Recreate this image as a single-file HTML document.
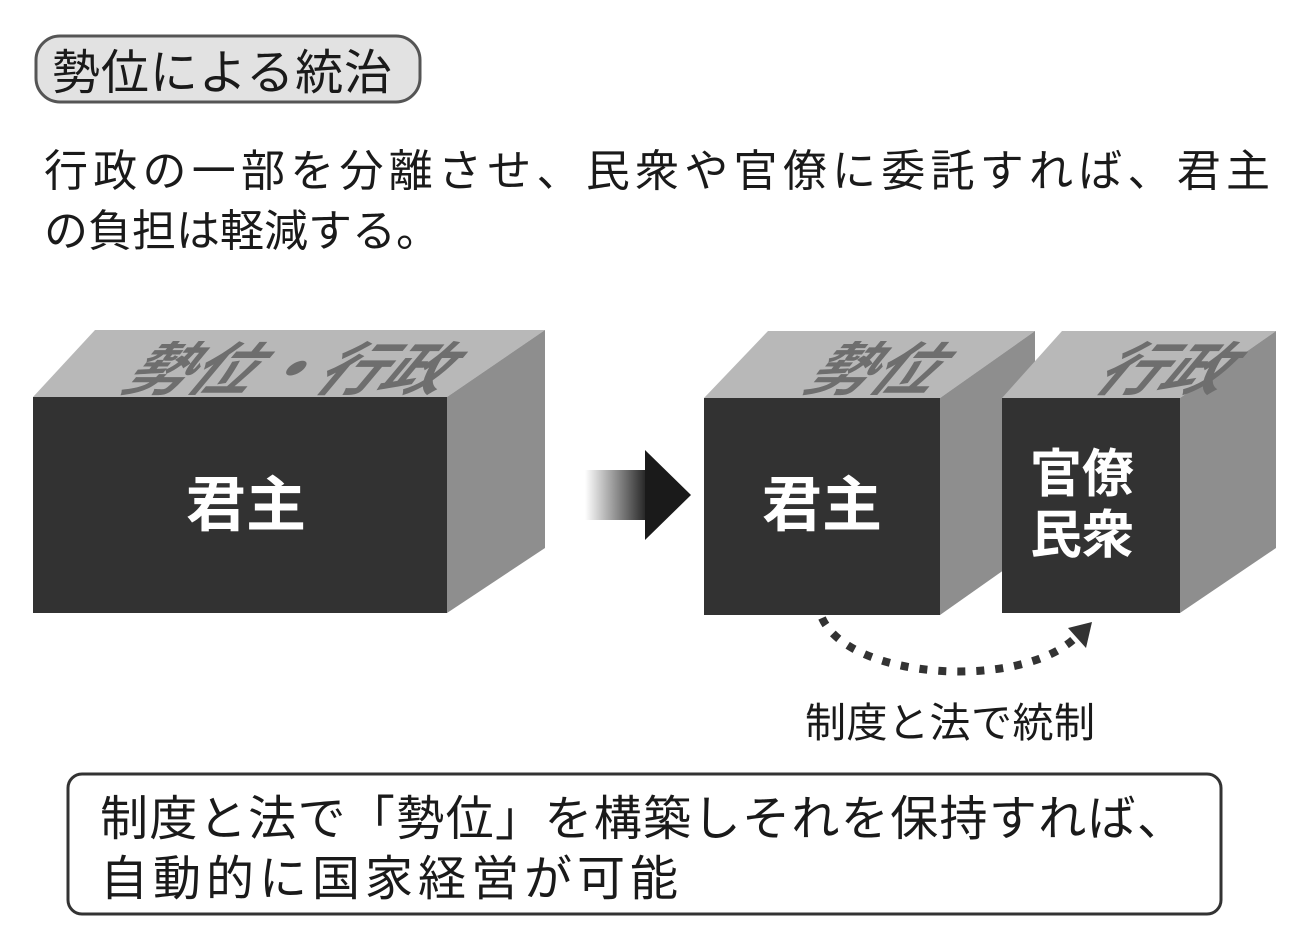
<!DOCTYPE html>
<html><head><meta charset="utf-8"><style>
html,body{margin:0;padding:0;background:#fff;}
svg{display:block;}
text{font-family:"Liberation Sans","Noto Sans CJK JP",sans-serif;}
</style></head><body>
<svg width="1300" height="951" viewBox="0 0 1300 951" xmlns="http://www.w3.org/2000/svg">
<defs>
<linearGradient id="ag" x1="0" x2="1" y1="0" y2="0">
<stop offset="0" stop-color="#fff"/><stop offset="1" stop-color="#222"/>
</linearGradient>
</defs>
<rect width="1300" height="951" fill="#fff"/>
<rect x="36" y="36" width="384" height="66" rx="24" fill="#e2e2e2" stroke="#555" stroke-width="3"/>
<text x="52" y="89" font-size="48" fill="#1a1a1a" textLength="340">勢位による統治</text>
<text x="44" y="186" font-size="44" fill="#1a1a1a" textLength="1226">行政の一部を分離させ、民衆や官僚に委託すれば、君主</text>
<text x="44" y="246" font-size="44" fill="#1a1a1a">の負担は軽減する。</text>

<polygon points="33,397 95,330 545,330 447,397" fill="#b8b8b8"/>
<polygon points="447,397 545,330 545,548 447,613" fill="#8e8e8e"/>
<rect x="33" y="397" width="414" height="216" fill="#323232"/>
<text font-size="64" font-weight="bold" fill="#6e6e6e" transform="translate(118,390) skewX(-40) scale(1,0.9)" textLength="320">勢位・行政</text>
<text x="246" y="526" font-size="60" font-weight="bold" fill="#fff" text-anchor="middle">君主</text>

<rect x="585" y="470" width="62" height="50" fill="url(#ag)"/>
<polygon points="645,450 691,495 645,540" fill="#1a1a1a"/>

<polygon points="704,398 768,331 1035,331 940,398" fill="#b8b8b8"/>
<polygon points="940,398 1035,331 1035,548 940,615" fill="#8e8e8e"/>
<rect x="704" y="398" width="236" height="217" fill="#323232"/>
<text font-size="64" font-weight="bold" fill="#6e6e6e" transform="translate(800,390) skewX(-40) scale(1,0.9)">勢位</text>
<text x="822" y="526" font-size="60" font-weight="bold" fill="#fff" text-anchor="middle">君主</text>

<polygon points="1002,398 1062,331 1276,331 1180,398" fill="#b8b8b8"/>
<polygon points="1180,398 1276,331 1276,548 1180,613" fill="#8e8e8e"/>
<rect x="1002" y="398" width="178" height="215" fill="#323232"/>
<text font-size="64" font-weight="bold" fill="#6e6e6e" transform="translate(1090,390) skewX(-40) scale(1,0.9)">行政</text>
<text x="1082" y="492" font-size="52" font-weight="bold" fill="#fff" text-anchor="middle">官僚</text>
<text x="1082" y="553" font-size="52" font-weight="bold" fill="#fff" text-anchor="middle">民衆</text>

<path d="M822,618 C850,680 1020,690 1075,638" fill="none" stroke="#333" stroke-width="8" stroke-dasharray="8,11"/>
<polygon points="1068,628 1092,622 1086,648" fill="#333"/>
<text x="805" y="737" font-size="41" fill="#1a1a1a" textLength="290">制度と法で統制</text>

<rect x="68" y="774" width="1153" height="140" rx="14" fill="#fff" stroke="#333" stroke-width="3"/>
<text x="100" y="835" font-size="48" fill="#1a1a1a" textLength="1085">制度と法で「勢位」を構築しそれを保持すれば、</text>
<text x="100" y="895" font-size="48" fill="#1a1a1a" textLength="578">自動的に国家経営が可能</text>
</svg>
</body></html>
